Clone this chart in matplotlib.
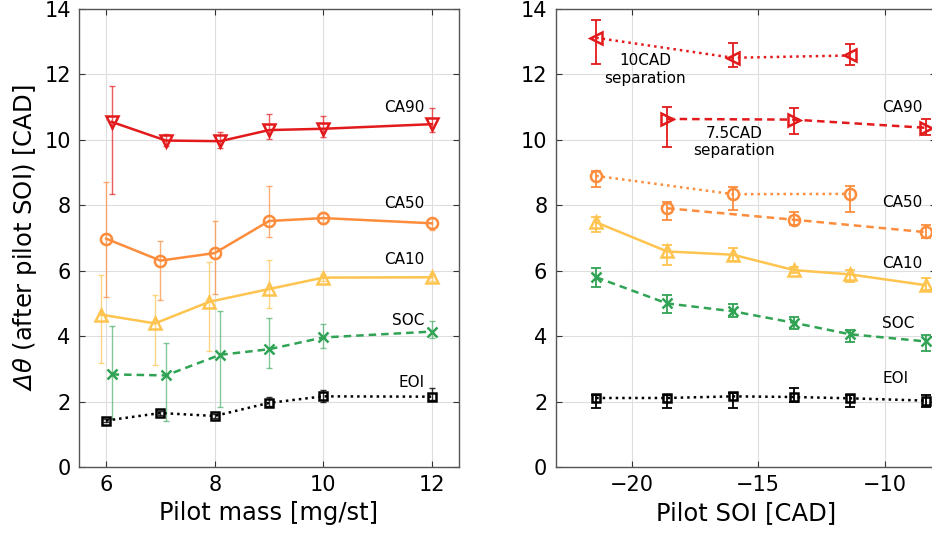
import matplotlib
matplotlib.use('Agg')
import matplotlib.pyplot as plt
import numpy as np

RED = '#e31a1c'
ORANGE = '#fd8d3c'
YELLOW = '#fec44f'
GREEN = '#31a354'
BLACK = '#000000'

# ---- left panel: pilot mass sweep ----
mass_ca90 = [6.1, 7.1, 8.1, 9, 10, 12]
ca90_m = [10.55, 9.98, 9.96, 10.30, 10.34, 10.48]
ca90_m_lo = [8.35, 9.80, 9.76, 10.02, 10.09, 10.23]
ca90_m_hi = [11.66, 10.18, 10.24, 10.78, 10.73, 10.98]

mass_ca50 = [6, 7, 8, 9, 10, 12]
ca50_m = [6.98, 6.31, 6.54, 7.52, 7.61, 7.45]
ca50_m_lo = [5.20, 5.10, 5.29, 7.03, 7.43, 7.26]
ca50_m_hi = [8.70, 6.91, 7.53, 8.58, 7.79, 7.61]

mass_ca10 = [5.9, 6.9, 7.9, 9, 10, 12]
ca10_m = [4.66, 4.39, 5.05, 5.44, 5.79, 5.80]
ca10_m_lo = [3.19, 3.13, 3.54, 4.87, 5.69, 5.70]
ca10_m_hi = [5.86, 5.27, 6.27, 6.34, 5.89, 5.90]

mass_soc = [6.1, 7.1, 8.1, 9, 10, 12]
soc_m = [2.83, 2.80, 3.43, 3.60, 3.96, 4.14]
soc_m_lo = [1.48, 1.41, 1.84, 3.04, 3.64, 3.93]
soc_m_hi = [4.31, 3.80, 4.78, 4.56, 4.36, 4.46]

mass_eoi = [6, 7, 8, 9, 10, 12]
eoi_m = [1.42, 1.65, 1.56, 1.96, 2.16, 2.15]
eoi_m_lo = [1.37, 1.60, 1.51, 1.88, 2.00, 2.05]
eoi_m_hi = [1.47, 1.70, 1.61, 2.14, 2.34, 2.40]

# ---- right panel: pilot SOI sweep ----
soi_all = [-21.4, -18.6, -16.0, -13.6, -11.4, -8.4]
soi_10 = [-21.4, -16.0, -11.4]
soi_75 = [-18.6, -13.6, -8.4]

ca90_10 = [13.12, 12.51, 12.58]
ca90_10_lo = [12.33, 12.22, 12.28]
ca90_10_hi = [13.66, 12.96, 12.92]
ca90_75 = [10.64, 10.62, 10.37]
ca90_75_lo = [9.78, 10.19, 10.16]
ca90_75_hi = [11.01, 10.99, 10.64]

ca50_10 = [8.90, 8.34, 8.35]
ca50_10_lo = [8.55, 7.85, 7.81]
ca50_10_hi = [9.06, 8.56, 8.60]
ca50_75 = [7.91, 7.56, 7.18]
ca50_75_lo = [7.54, 7.41, 6.99]
ca50_75_hi = [8.11, 7.80, 7.41]

ca10_s = [7.48, 6.59, 6.49, 6.02, 5.89, 5.56]
ca10_s_lo = [7.17, 6.17, 6.29, 5.92, 5.65, 5.40]
ca10_s_hi = [7.64, 6.80, 6.70, 6.12, 6.02, 5.77]

soc_s = [5.80, 5.00, 4.76, 4.41, 4.06, 3.84]
soc_s_lo = [5.51, 4.71, 4.60, 4.22, 3.81, 3.55]
soc_s_hi = [6.08, 5.27, 4.97, 4.58, 4.18, 4.04]

eoi_s = [2.11, 2.11, 2.16, 2.14, 2.10, 2.03]
eoi_s_lo = [1.80, 1.80, 1.80, 1.99, 1.82, 1.82]
eoi_s_hi = [2.19, 2.19, 2.27, 2.40, 2.21, 2.19]

label_names = ['CA90', 'CA50', 'CA10', 'SOC', 'EOI']
label_y_left = [11.0, 8.05, 6.33, 4.49, 2.57]
label_y_right = [10.98, 8.09, 6.23, 4.39, 2.70]


def err(y, lo, hi):
    y = np.array(y)
    return [y - np.array(lo), np.array(hi) - y]


def series(ax, x, y, lo, hi, color, marker, ls, ms, ealpha, elw, cap):
    ax.errorbar(x, y, yerr=err(y, lo, hi), fmt='none', ecolor=color,
                alpha=ealpha, elinewidth=elw, capsize=cap, capthick=elw, zorder=2)
    ax.plot(x, y, color=color, ls=ls, lw=1.8, marker=marker, ms=ms,
            mfc='none', mec=color, mew=1.8, zorder=3)


plt.rcParams['font.family'] = 'DejaVu Sans'
# only math in the figure is the italic delta-theta of the y label
plt.rcParams['mathtext.fontset'] = 'custom'
plt.rcParams['mathtext.rm'] = 'DejaVu Sans:italic'
plt.rcParams['mathtext.it'] = 'DejaVu Sans:italic'

fig = plt.figure(figsize=(9.32, 5.35), dpi=100)
ax1 = fig.add_axes([0.0848, 0.1271, 0.4077, 0.856])
ax2 = fig.add_axes([0.5962, 0.1271, 0.4077, 0.856])

dotted = (0, (1, 1.6))
dashed = (0, (3, 2))

# left panel
series(ax1, mass_ca90, ca90_m, ca90_m_lo, ca90_m_hi, RED, 'v', '-', 9, 0.7, 1.0, 2.5)
series(ax1, mass_ca50, ca50_m, ca50_m_lo, ca50_m_hi, ORANGE, 'o', '-', 8, 0.7, 1.0, 2.5)
series(ax1, mass_ca10, ca10_m, ca10_m_lo, ca10_m_hi, YELLOW, '^', '-', 9, 0.7, 1.0, 2.5)
series(ax1, mass_soc, soc_m, soc_m_lo, soc_m_hi, GREEN, 'x', dashed, 6.5, 0.6, 1.0, 2.5)
series(ax1, mass_eoi, eoi_m, eoi_m_lo, eoi_m_hi, BLACK, 's', dotted, 6, 0.8, 1.0, 2.5)

for name, yv in zip(label_names, label_y_left):
    ax1.text(11.86, yv, name, ha='right', va='center', fontsize=11)

ax1.set_xlim(5.5, 12.5)
ax1.set_xticks([6, 8, 10, 12])
ax1.set_xlabel('Pilot mass [mg/st]', fontsize=17.5)
ax1.set_ylabel(r'$\Delta\theta$ (after pilot SOI) [CAD]', fontsize=17.5)

# right panel
series(ax2, soi_10, ca90_10, ca90_10_lo, ca90_10_hi, RED, '<', dotted, 9, 1.0, 1.3, 3.8)
series(ax2, soi_75, ca90_75, ca90_75_lo, ca90_75_hi, RED, '>', dashed, 9, 1.0, 1.3, 3.8)
series(ax2, soi_10, ca50_10, ca50_10_lo, ca50_10_hi, ORANGE, 'o', dotted, 8, 1.0, 1.3, 3.8)
series(ax2, soi_75, ca50_75, ca50_75_lo, ca50_75_hi, ORANGE, 'o', dashed, 8, 1.0, 1.3, 3.8)
series(ax2, soi_all, ca10_s, ca10_s_lo, ca10_s_hi, YELLOW, '^', '-', 9, 1.0, 1.3, 3.8)
series(ax2, soi_all, soc_s, soc_s_lo, soc_s_hi, GREEN, 'x', dashed, 6.5, 1.0, 1.3, 3.8)
series(ax2, soi_all, eoi_s, eoi_s_lo, eoi_s_hi, BLACK, 's', dotted, 6, 1.0, 1.3, 3.8)

for name, yv in zip(label_names, label_y_right):
    ax2.text(-10.1, yv, name, ha='left', va='center', fontsize=11)
ax2.text(-19.47, 12.15, '10CAD\nseparation', ha='center', va='center', fontsize=11)
ax2.text(-15.96, 9.93, '7.5CAD\nseparation', ha='center', va='center', fontsize=11)

ax2.set_xlim(-23, -8)
ax2.set_xticks([-20, -15, -10])
ax2.set_xlabel('Pilot SOI [CAD]', fontsize=17.5)

for ax in (ax1, ax2):
    ax.set_ylim(0, 14)
    ax.set_yticks(np.arange(0, 15, 2))
    ax.grid(True, color='#dedede', lw=0.8)
    ax.set_axisbelow(True)
    ax.tick_params(direction='in', top=True, right=True, labelsize=15,
                   length=4, width=0.8, color='#333333', pad=6)
    for sp in ax.spines.values():
        sp.set_color('#555555')
        sp.set_linewidth(1.0)

fig.savefig('out.png', dpi=100)
